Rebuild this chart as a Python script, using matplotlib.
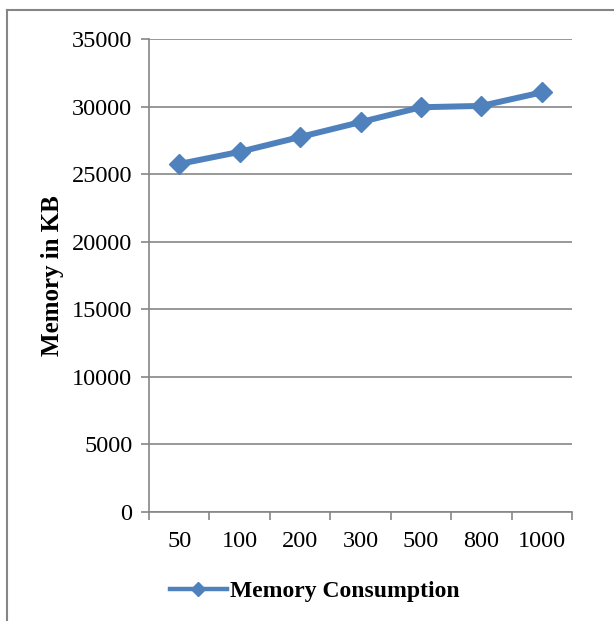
import numpy as np
import matplotlib.pyplot as plt
from matplotlib.lines import Line2D

plt.rcParams['font.family'] = ['Liberation Serif', 'DejaVu Serif']

# memory usage per number of records
categories = ['50', '100', '200', '300', '500', '800', '1000']
memory_kb = [25750, 26650, 27750, 28850, 29950, 30050, 31050]
y_ticks = [0, 5000, 10000, 15000, 20000, 25000, 30000, 35000]

blue = '#4F81BD'
grid_gray = '#868686'

W, H = 614, 621
fig = plt.figure(figsize=(W / 100, H / 100), dpi=100)

# outer frame (top and left edges)
fig.add_artist(Line2D([7 / W, 7 / W], [0, 1 - 10 / H], transform=fig.transFigure,
                      color=grid_gray, lw=1.5))
fig.add_artist(Line2D([7 / W, 1], [1 - 10 / H, 1 - 10 / H], transform=fig.transFigure,
                      color=grid_gray, lw=1.5))

ax = fig.add_axes([149 / W, 1 - 512 / H, 423 / W, 473 / H])
x = np.arange(len(categories))
ax.plot(x, memory_kb, color=blue, lw=4.3, marker='D', markersize=10,
        markeredgecolor=blue, solid_joinstyle='miter')

ax.set_xlim(-0.5, len(categories) - 0.5)
ax.set_ylim(0, 35000)
ax.set_yticks(y_ticks)
ax.set_yticklabels([str(v) for v in y_ticks])
ax.set_xticks(np.arange(len(categories) + 1) - 0.5)
ax.set_xticklabels([])
ax.set_xticks(x, minor=True)
ax.set_xticklabels(categories, minor=True)
ax.tick_params(axis='x', which='minor', length=0, pad=14, labelsize=17.5)
ax.tick_params(axis='x', which='major', length=6, color=grid_gray, width=1.2)
ax.tick_params(axis='y', length=6, color=grid_gray, width=1.2, labelsize=17.5, pad=6)

ax.grid(axis='y', color=grid_gray, lw=1.2)
ax.set_axisbelow(True)
for side in ['top', 'right']:
    ax.spines[side].set_visible(False)
for side in ['left', 'bottom']:
    ax.spines[side].set_color(grid_gray)
    ax.spines[side].set_linewidth(1.2)

ax.set_ylabel('Memory in KB', fontsize=18, fontweight='bold', labelpad=6)

# legend key drawn a bit lighter than the series line
key = Line2D([], [], color=blue, lw=3.2, marker='D', markersize=7.5, markeredgecolor=blue)
fig.legend([key], ['Memory Consumption'], loc='center',
           bbox_to_anchor=(315 / W, 1 - 591 / H), frameon=False,
           prop={'size': 17, 'weight': 'bold'}, handlelength=2.4, handletextpad=0.15)

fig.savefig('out.png', dpi=100)
